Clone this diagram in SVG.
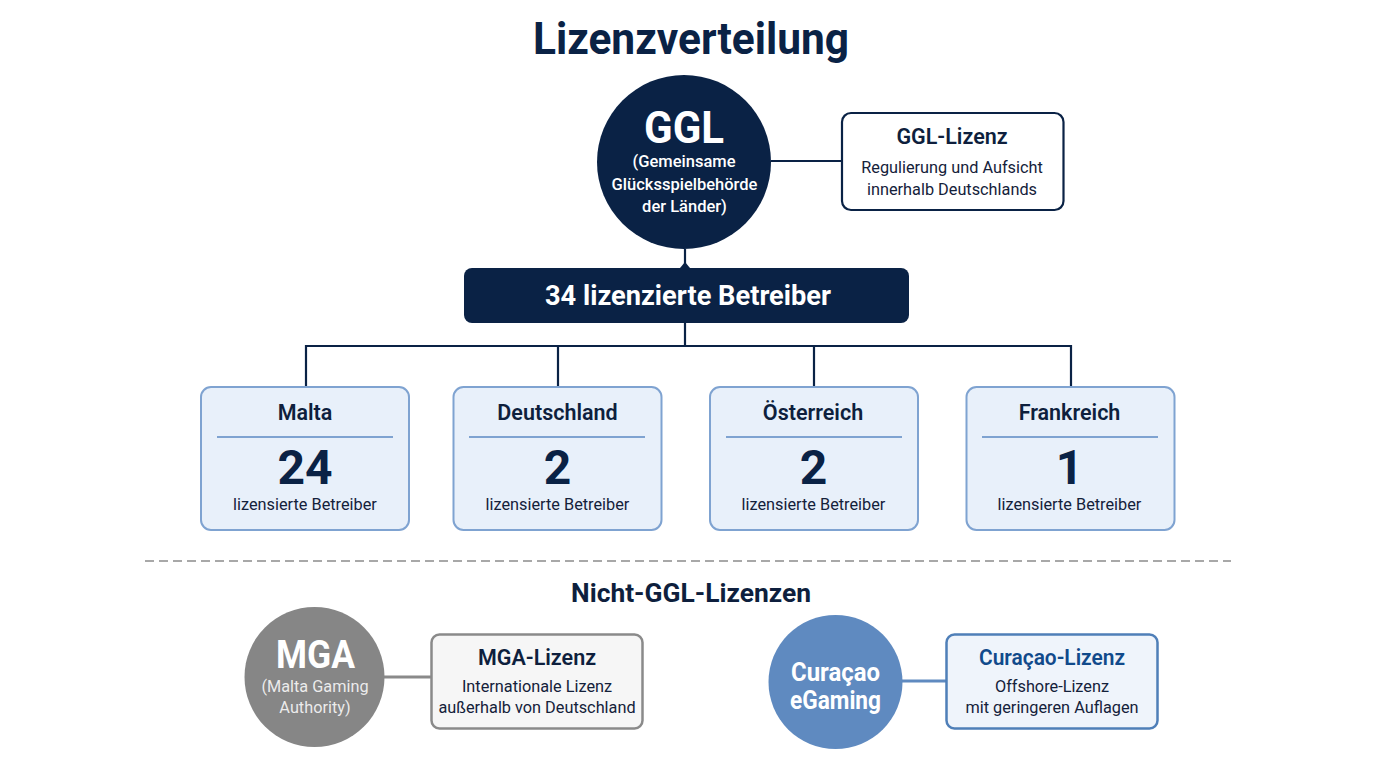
<svg xmlns="http://www.w3.org/2000/svg" width="1376" height="774" viewBox="0 0 1376 774">
<style>
text{font-family:Roboto,"Liberation Sans",sans-serif;text-anchor:middle}
.b{font-weight:700}
.m{font-weight:500}
.title{font-size:45px;fill:#0a2245}
.h{font-size:21.500px;fill:#0e1f3d;font-weight:600}
.s{font-size:16.300px;fill:#14213a}
.w{fill:#fff}
.card{fill:#e8f0fa;stroke:#7fa3d1;stroke-width:2}
.div{stroke:#7fa3d1;stroke-width:2}
.num{font-size:48px;fill:#0a2245}
.con{fill:none;stroke:#0a2245;stroke-width:2.200}
</style>
<rect width="1376" height="774" fill="#fff"/>
<text class="b title" x="691" y="54" textLength="316" lengthAdjust="spacingAndGlyphs">Lizenzverteilung</text>
<g id="connectors">
<path class="con" d="M771 161H842"/>
<path class="con" d="M685 249V268"/>
<path d="M680 268L685 262L690 268Z" fill="#0a2245"/>
<path class="con" d="M685 322V346M306 387V346H1071V387M558 346V387M814 346V387"/>
<path d="M384 677H432" fill="none" stroke="#8a8a8a" stroke-width="3"/>
<path d="M902 681H947" fill="none" stroke="#5f8ac0" stroke-width="3"/>
</g>
<g id="ggl">
<circle cx="684" cy="162" r="87" fill="#0a2245"/>
<text class="b w" x="684" y="143" font-size="45" textLength="80" lengthAdjust="spacingAndGlyphs">GGL</text>
<text class="m w" x="684" y="167" font-size="16.500">(Gemeinsame</text>
<text class="m w" x="684.500" y="190" font-size="16.500">Glücksspielbehörde</text>
<text class="m w" x="684.500" y="212" font-size="16.500">der Länder)</text>
</g>
<g id="ggl-lizenz">
<rect x="842" y="113" width="221.500" height="97" rx="9" fill="#fff" stroke="#0a2245" stroke-width="2.200"/>
<text class="h" x="952" y="144">GGL-Lizenz</text>
<text class="s" x="952" y="173">Regulierung und Aufsicht</text>
<text class="s" x="952" y="195">innerhalb Deutschlands</text>
</g>
<g id="betreiber">
<rect x="464" y="268" width="445" height="55" rx="8" fill="#0a2245"/>
<text class="b w" x="688" y="305" font-size="28" textLength="286" lengthAdjust="spacingAndGlyphs">34 lizenzierte Betreiber</text>
</g>
<g id="malta">
<rect class="card" x="201" y="387" width="208" height="143" rx="10"/>
<text class="h" x="305" y="420">Malta</text>
<path class="div" d="M217 437H393"/>
<text class="b num" x="305" y="484">24</text>
<text class="s" x="305" y="510">lizensierte Betreiber</text>
</g>
<g id="deutschland">
<rect class="card" x="453.500" y="387" width="208" height="143" rx="10"/>
<text class="h" x="557.500" y="420">Deutschland</text>
<path class="div" d="M469 437H645"/>
<text class="b num" x="557.500" y="484">2</text>
<text class="s" x="557.500" y="510">lizensierte Betreiber</text>
</g>
<g id="oesterreich">
<rect class="card" x="710" y="387" width="208" height="143" rx="10"/>
<text class="h" x="813" y="420">Österreich</text>
<path class="div" d="M726 437H902"/>
<text class="b num" x="813.500" y="484">2</text>
<text class="s" x="813.500" y="510">lizensierte Betreiber</text>
</g>
<g id="frankreich">
<rect class="card" x="966.500" y="387" width="208" height="143" rx="10"/>
<text class="h" x="1069.500" y="420">Frankreich</text>
<path class="div" d="M982 437H1158"/>
<text class="b num" x="1069.500" y="484">1</text>
<text class="s" x="1069.500" y="510">lizensierte Betreiber</text>
</g>
<path d="M145 561H1231" stroke="#a8a8a8" stroke-width="2" stroke-dasharray="9 5"/>
<text class="b" x="691" y="602" font-size="26.400" fill="#0e1f3d">Nicht-GGL-Lizenzen</text>
<g id="mga">
<circle cx="314.500" cy="677" r="70" fill="#868686"/>
<text class="b w" x="315.500" y="668" font-size="38" textLength="79" lengthAdjust="spacingAndGlyphs">MGA</text>
<text class="w" x="315" y="692" font-size="16.300" fill-opacity=".85">(Malta Gaming</text>
<text class="w" x="315" y="713" font-size="16.300" fill-opacity=".85">Authority)</text>
</g>
<g id="mga-lizenz">
<rect x="431.500" y="634.500" width="211" height="94" rx="8" fill="#f6f6f6" stroke="#8a8a8a" stroke-width="2.500"/>
<text class="h" x="537" y="665">MGA-Lizenz</text>
<text class="s" x="537" y="692">Internationale Lizenz</text>
<text class="s" x="537" y="713">außerhalb von Deutschland</text>
</g>
<g id="curacao">
<circle cx="835.500" cy="682" r="67" fill="#5f8ac0"/>
<text class="b w" x="835.500" y="681" font-size="25.500" textLength="89" lengthAdjust="spacingAndGlyphs">Curaçao</text>
<text class="b w" x="835.500" y="709" font-size="25.500" textLength="91" lengthAdjust="spacingAndGlyphs">eGaming</text>
</g>
<g id="curacao-lizenz">
<rect x="946.500" y="634.500" width="211" height="94" rx="8" fill="#eff4fb" stroke="#4f7fb8" stroke-width="2.500"/>
<text class="h" x="1052" y="665" style="fill:#114a8b" textLength="146" lengthAdjust="spacingAndGlyphs">Curaçao-Lizenz</text>
<text class="s" x="1052" y="692">Offshore-Lizenz</text>
<text class="s" x="1052" y="713">mit geringeren Auflagen</text>
</g>
</svg>
